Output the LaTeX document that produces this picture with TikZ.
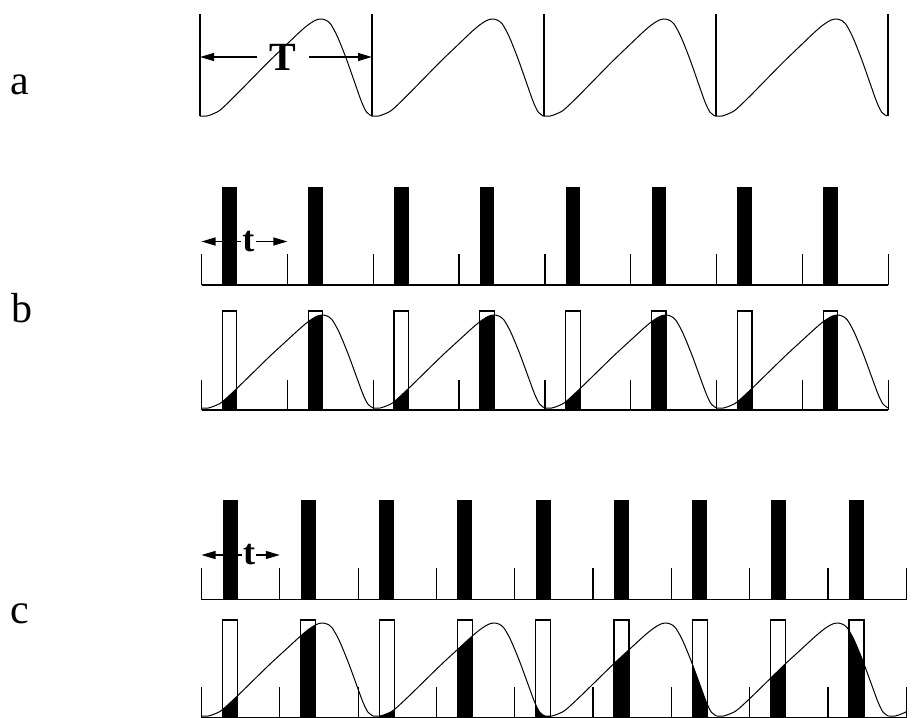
\documentclass[tikz,border=0pt]{standalone}
\usepackage{fontspec}
\setmainfont{Liberation Serif}
\usepackage{tikz}
\usetikzlibrary{arrows.meta}
\tikzset{
  tickline/.style={line width=0.6pt},
  pulse/.style={fill=black},
  slot/.style={draw=black, line width=0.6pt},
  waveline/.style={line width=0.5pt},
  rowlabel/.style={anchor=base, font=\fontsize{21}{24}\selectfont},
  dimlabel/.style={inner xsep=0.5pt, inner ysep=0pt, font=\bfseries\fontsize{18}{20}\selectfont},
  dimarrow/.style={line width=0.6pt, -{Triangle[length=7pt,width=4pt]}},
  wave/.pic={
    \draw[waveline, x=85.85pt, y=46.5pt] plot[smooth] coordinates {(0,0) (0.04,0) (0.08,0.025) (0.12,0.065) (0.2,0.2) (0.3,0.38) (0.4,0.56) (0.5,0.73) (0.58,0.865) (0.63,0.94) (0.67,0.985) (0.7,1) (0.73,0.99) (0.76,0.95) (0.8,0.82) (0.85,0.6) (0.9,0.35) (0.94,0.15) (0.97,0.04) (1,0)};
  },
  wavearea/.pic={
    \fill[x=85.85pt, y=46.5pt] plot[smooth] coordinates {(0,0) (0.04,0) (0.08,0.025) (0.12,0.065) (0.2,0.2) (0.3,0.38) (0.4,0.56) (0.5,0.73) (0.58,0.865) (0.63,0.94) (0.67,0.985) (0.7,1) (0.73,0.99) (0.76,0.95) (0.8,0.82) (0.85,0.6) (0.9,0.35) (0.94,0.15) (0.97,0.04) (1,0)} -- (1,-0.06) -- (0,-0.06) -- cycle;
  }
}

\begin{document}
\begin{tikzpicture}[x=0.5pt, y=-0.5pt]
\useasboundingbox (0,0) rectangle (913,717);
\clip (0,0) rectangle (913,717);

% row letters
\node[rowlabel] (la) at (20,95) {a};
\node[rowlabel] (lb) at (22,322) {b};
\node[rowlabel] (lc) at (20,623) {c};

% panel a: signal with period T
\foreach \k in {0,...,4}
  \draw[tickline] ({200+172*\k},14) -- ++(0,102);
\foreach \k in {0,...,3}
  \pic[yscale=1.043] at ({200+171.7*\k},116) {wave};
\node[dimlabel, inner xsep=6pt, font=\bfseries\fontsize{20}{24}\selectfont] (T) at (283,57) {T};
\coordinate (Tl) at (200,57);
\coordinate (Tr) at (372,57);
\draw[dimarrow] (T) -- (Tl);
\draw[dimarrow] (T) -- (Tr);

% panel b: sampling pulses every T/2
\draw[tickline] (201.5,285) -- (888.3,285);
\foreach \k in {0,...,8}
  \draw[tickline] ({201.5+85.85*\k},285) -- ++(0,-31);
\foreach \k in {0,...,7}
  \fill[pulse] ({222.3+85.85*\k},187) rectangle ++(14.5,98);
\node[dimlabel] (tb) at (248.3,241.5) {t};
\coordinate (tbl) at (201.5,241.5);
\coordinate (tbr) at (287.4,241.5);
\draw[dimarrow] (tb) -- (tbl);
\draw[dimarrow] (tb) -- (tbr);

% panel b: sampled signal
\draw[tickline] (201.5,410) -- (888.3,410);
\foreach \k in {0,...,8}
  \draw[tickline] ({201.5+85.85*\k},410) -- ++(0,-30);
\begin{scope}
  \clip \foreach \k in {0,...,7} {({222.3+85.85*\k},311) rectangle ++(14.5,99)};
  \foreach \k in {0,...,3}
    \pic at ({201.5+171.7*\k},408) {wavearea};
\end{scope}
\foreach \k in {0,...,7}
  \draw[slot] ({222.3+85.85*\k},311) rectangle ++(14.5,99);
\foreach \k in {0,...,3}
  \pic at ({201.5+171.7*\k},408) {wave};

% panel c: sampling pulses slightly faster
\draw[tickline] (201.5,599.5) -- (906.2,599.5);
\foreach \k in {0,...,9}
  \draw[tickline] ({201.5+78.3*\k},599.5) -- ++(0,-31.5);
\foreach \k in {0,...,8}
  \fill[pulse] ({222.5+78.3*\k},499.5) rectangle ++(15,100);
\node[dimlabel] (tc) at (249,555) {t};
\coordinate (tcl) at (201.5,555);
\coordinate (tcr) at (279.8,555);
\draw[dimarrow] (tc) -- (tcl);
\draw[dimarrow] (tc) -- (tcr);

% panel c: sampled signal
\draw[tickline] (201.5,718) -- (906.2,718);
\foreach \k in {0,...,9}
  \draw[tickline] ({201.5+78.3*\k},718) -- ++(0,-31);
\begin{scope}
  \clip \foreach \k in {0,...,8} {({222.5+78.3*\k},620) rectangle ++(15,98)};
  \foreach \k in {0,...,3}
    \pic at ({201.5+171.7*\k},716) {wavearea};
\end{scope}
\foreach \k in {0,...,8}
  \draw[slot] ({222.5+78.3*\k},620) rectangle ++(15,98);
\begin{scope}
  \clip (195,600) rectangle (906.5,725);
  \foreach \k in {0,...,4}
    \pic at ({201.5+171.7*\k},716) {wave};
\end{scope}
\end{tikzpicture}
\end{document}
